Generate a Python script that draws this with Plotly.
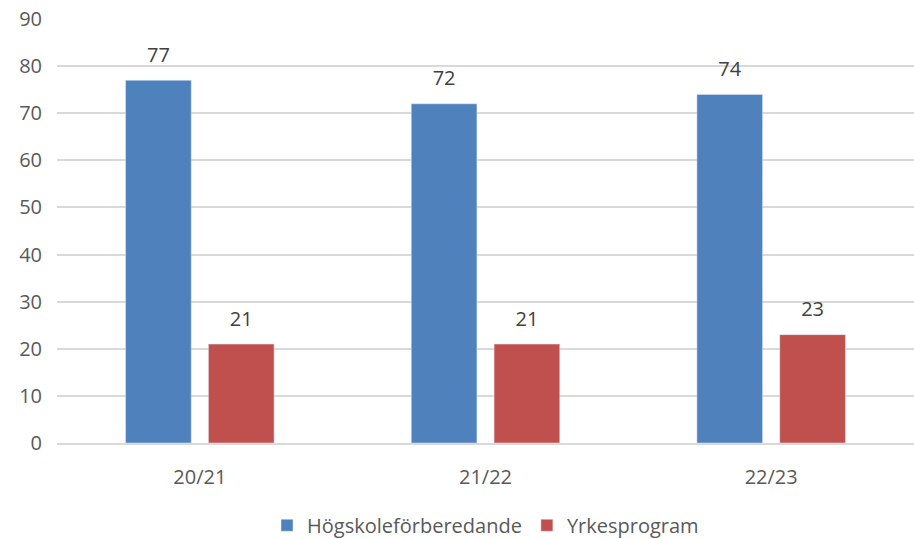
import plotly.graph_objects as go

categories = ["20/21", "21/22", "22/23"]
hogskole = [77, 72, 74]
yrke = [21, 21, 23]
yticks = [0, 10, 20, 30, 40, 50, 60, 70, 80, 90]

font = "Open Sans"
txtc = "#595959"
fs = 20

fig = go.Figure()
fig.add_bar(x=categories, y=hogskole, name="Högskoleförberedande",
            marker_color="#4F81BD", hoverinfo="skip")
fig.add_bar(x=categories, y=yrke, name="Yrkesprogram",
            marker_color="#C0504D", hoverinfo="skip")
for vals in (hogskole, yrke):
    fig.add_scatter(x=categories, y=vals, mode="markers+text", text=vals,
                    textposition="top center", showlegend=False, hoverinfo="skip",
                    marker=dict(size=20, opacity=0),
                    textfont=dict(size=fs, color="#404040", family=font),
                    cliponaxis=False)

fig.update_layout(
    width=914, height=539,
    margin=dict(l=57, r=0, t=19, b=96, autoexpand=False),
    paper_bgcolor="white", plot_bgcolor="white",
    barmode="group", bargap=0.42, bargroupgap=0.207,
    scattermode="group", scattergap=0.42,
    font=dict(family=font, size=fs, color=txtc),
    showlegend=True,
    legend=dict(orientation="h", x=0.5, xanchor="center", y=-0.148, yanchor="top",
                font=dict(size=fs, color=txtc), traceorder="normal"),
)
fig.update_yaxes(range=[0, 90], tickvals=yticks, showgrid=True, gridcolor="#D9D9D9",
                 gridwidth=1.5, zeroline=False, showline=False, ticks="",
                 tickfont=dict(size=fs, color=txtc), ticklabelstandoff=14, automargin=False)
fig.update_xaxes(showline=True, linecolor="#D9D9D9", linewidth=1.5, ticks="",
                 tickfont=dict(size=fs, color=txtc), ticklabelstandoff=15, automargin=False)

fig.write_html("out.html", config={"displayModeBar": False},
               post_script="document.body.style.margin='0';document.body.style.overflow='hidden';")
